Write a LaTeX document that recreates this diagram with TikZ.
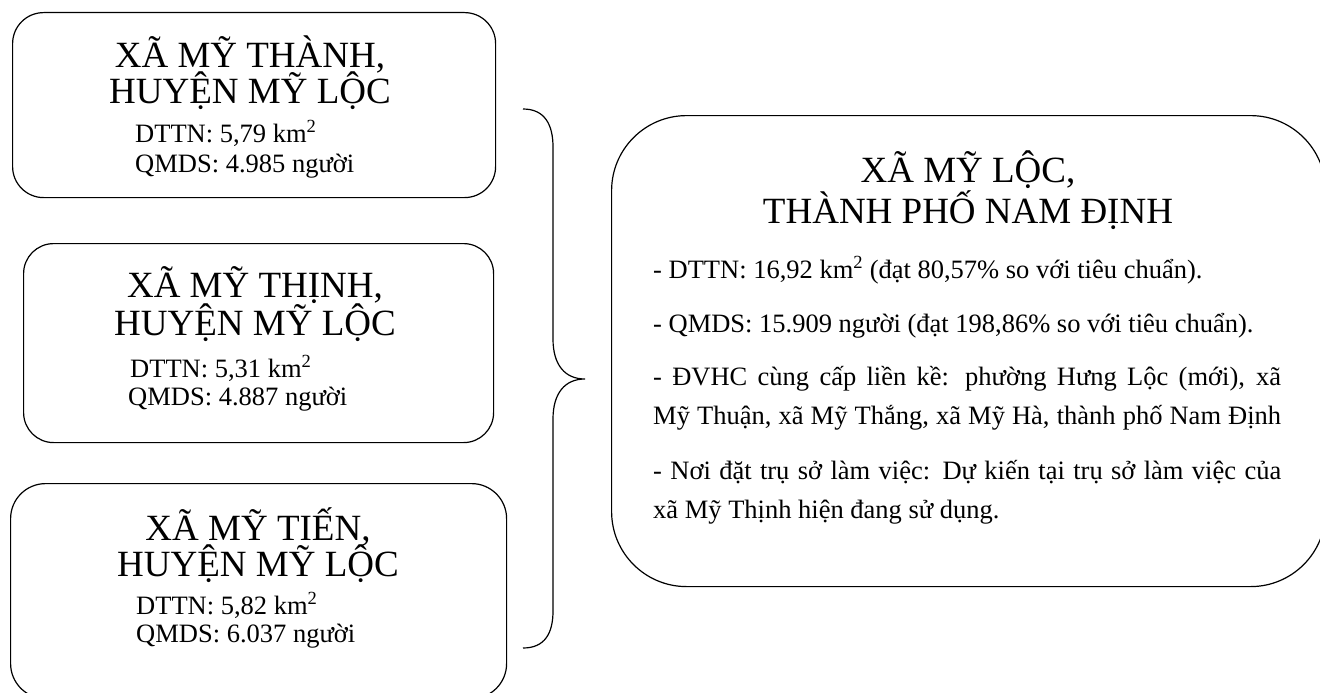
\documentclass[tikz,border=0pt]{standalone}
\usepackage{fontspec}
\setmainfont{Liberation Serif}
\begin{document}
\begin{tikzpicture}[x=1pt,y=-1pt,
  box/.style={draw, line width=1.2pt, rounded corners=#1, anchor=north west, inner sep=0pt},
  ttl/.style={font=\fontsize{37}{37}\selectfont, anchor=base, inner sep=0pt},
  sm/.style={font=\fontsize{26.5}{26.5}\selectfont, anchor=base west, inner sep=0pt},
  brace/.style={draw, line width=1.2pt}]
\useasboundingbox (0,0) rectangle (1320,693);
\clip (0,0) rectangle (1320,693);
% left boxes
\node[box=31pt, minimum width=483pt, minimum height=185pt] (b1) at (12,12) {};
\node[box=30pt, minimum width=470pt, minimum height=199pt] (b2) at (23,243) {};
\node[box=35pt, minimum width=496pt, minimum height=215pt] (b3) at (10,483) {};
% big box
\node[box=75pt, minimum width=714pt, minimum height=471pt] (big) at (611,115) {};
% box 1 text
\node[ttl] (t1a) at (250,67) {XÃ MỸ THÀNH,};
\node[ttl] (t1b) at (250,103) {HUYỆN MỸ LỘC};
\node[sm] (t1c) at (135,142) {DTTN: 5,79 km\textsuperscript{2}};
\node[sm] (t1d) at (135,172) {QMDS: 4.985 người};
% box 2 text
\node[ttl] (t2a) at (255,297) {XÃ MỸ THỊNH,};
\node[ttl] (t2b) at (255,335) {HUYỆN MỸ LỘC};
\node[sm] (t2c) at (130,377) {DTTN: 5,31 km\textsuperscript{2}};
\node[sm] (t2d) at (128,405) {QMDS: 4.887 người};
% box 3 text
\node[ttl] (t3a) at (258,540) {XÃ MỸ TIẾN,};
\node[ttl] (t3b) at (258,576) {HUYỆN MỸ LỘC};
\node[sm] (t3c) at (136,614) {DTTN: 5,82 km\textsuperscript{2}};
\node[sm] (t3d) at (136,642) {QMDS: 6.037 người};
% big box text
\node[ttl] (ta) at (968,182) {XÃ MỸ LỘC,};
\node[ttl] (tb) at (968,223) {THÀNH PHỐ NAM ĐỊNH};
\node[sm] (l1) at (653,278) {- DTTN: 16,92 km\textsuperscript{2} (đạt 80,57\% so với tiêu chuẩn).};
\node[sm] (l2) at (653,332) {- QMDS: 15.909 người (đạt 198,86\% so với tiêu chuẩn).};
\node[sm] (l3) at (653,385) {\makebox[628pt][s]{- ĐVHC cùng cấp liền kề: phường Hưng Lộc (mới), xã}};
\node[sm] (l4) at (653,424) {\makebox[628pt][s]{Mỹ Thuận, xã Mỹ Thắng, xã Mỹ Hà, thành phố Nam Định}};
\node[sm] (l5) at (653,479) {\makebox[628pt][s]{- Nơi đặt trụ sở làm việc: Dự kiến tại trụ sở làm việc của}};
\node[sm] (l6) at (653,518) {xã Mỹ Thịnh hiện đang sử dụng.};
% brace
\coordinate (bt) at (523,109);
\coordinate (bm) at (585,379);
\coordinate (bb) at (523,648);
\path[brace] (bt) .. controls (545,109) and (553,125) .. (553,147) -- (553,339)
  .. controls (553,365) and (565,379) .. (bm)
  .. controls (565,379) and (553,393) .. (553,419) -- (553,611)
  .. controls (553,633) and (545,648) .. (bb);
\end{tikzpicture}
\end{document}
